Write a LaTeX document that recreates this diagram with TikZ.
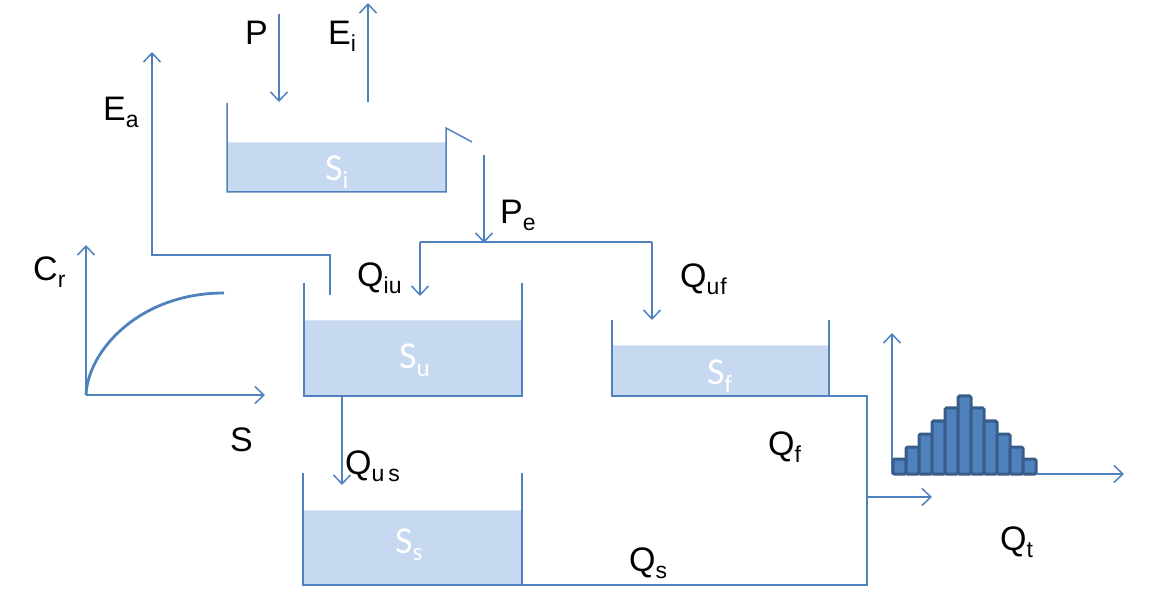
\documentclass[tikz,border=0pt]{standalone}
\usepackage{fontspec}
\setmainfont{Liberation Sans}
\newfontfamily\calib{Carlito}
\usetikzlibrary{arrows.meta}
\definecolor{ln}{HTML}{4F81BD}
\definecolor{water}{HTML}{C6D9F1}
\definecolor{waterline}{HTML}{DCE6F2}
\definecolor{barfill}{HTML}{4F81BD}
\definecolor{bardark}{HTML}{385D8A}
\newcommand\lbsub[1]{\raisebox{-7pt}{\fontsize{23}{23}\selectfont #1}}
\newcommand\wsub[1]{\raisebox{-0.2em}{\fontsize{25}{25}\selectfont #1}}
\tikzset{
  wall/.style={draw=ln, line width=1.5pt},
  flow/.style={draw=ln, line width=1.5pt, -{Straight Barb[length=9pt,width=17pt,line width=1.5pt]}},
  lbl/.style={anchor=base west, inner sep=0pt, font=\fontsize{34}{34}\selectfont},
  slbl/.style={anchor=base west, inner sep=0pt, text=white, font=\calib\fontsize{38}{38}\selectfont},
  waterbox/.style={fill=water, draw=none},
  barbox/.style={fill=barfill, draw=bardark, line width=3pt, rounded corners=1.5pt}
}
\begin{document}
\begin{tikzpicture}[x=1pt,y=-1pt]
\useasboundingbox (0,0) rectangle (1170,601);
% ---------- interception reservoir S_i
\fill[waterbox] (227,142) rectangle (446,192);
\draw[waterline, line width=1pt] (228,142.5) -- (445,142.5);
\draw[wall] (227,103) -- (227,192) -- (446,192) -- (446,128) -- (472,142);
\node[slbl] (Si) at (325,181) {S\wsub{i}};
% P and Ei
\coordinate (Ptop) at (279,14);
\coordinate (Pbot) at (279,102);
\draw[flow] (Ptop) -- (Pbot);
\node[lbl] (P) at (245,45) {P};
\coordinate (Eibot) at (368,102);
\coordinate (Eitop) at (368,3);
\draw[flow] (Eibot) -- (Eitop);
\node[lbl] (Ei) at (328,45) {E\lbsub{i}};
% Pe
\coordinate (Petop) at (484,155);
\coordinate (Pebot) at (484,243);
\draw[flow] (Petop) -- (Pebot);
\node[lbl] (Pe) at (500,224) {P\lbsub{e}};
\coordinate (splitL) at (420,242);
\coordinate (splitR) at (652,242);
\draw[wall] (splitL) -- (splitR);
\coordinate (Qiuend) at (420,296);
\coordinate (Qufend) at (652,320);
\draw[flow] (splitL) -- (Qiuend);
\draw[flow] (splitR) -- (Qufend);
\node[lbl] (Qiu) at (357,287) {Q\lbsub{iu}};
\node[lbl] (Quf) at (680,288) {Q\lbsub{u\kern1pt f}};
% ---------- unsaturated reservoir S_u
\fill[waterbox] (304,320) rectangle (522,396);
\draw[waterline, line width=1pt] (305,320.5) -- (521,320.5);
\draw[wall] (304,283) -- (304,396) -- (522,396) -- (522,283);
\node[slbl] (Su) at (399,369) {S\wsub{u}};
% Ea
\coordinate (Eastart) at (330,295);
\coordinate (Eatop) at (152,52);
\draw[flow] (Eastart) -- (330,255) -- (152,255) -- (Eatop);
\node[lbl] (Ea) at (103,121) {E\lbsub{a}};
% Cr curve
\coordinate (O1) at (86,395);
\coordinate (Cy) at (86,245);
\coordinate (Cx) at (265,395);
\draw[flow] (O1) -- (Cy);
\draw[flow] (O1) -- (Cx);
\draw[draw=ln, line width=2.8pt] (O1) .. controls (88,350) and (140,293) .. (224,293);
\node[lbl] (Cr) at (33,281) {C\lbsub{r}};
\node[lbl] (S) at (230,451) {S};
% ---------- fast reservoir S_f
\fill[waterbox] (612,345) rectangle (829,396);
\draw[waterline, line width=1pt] (613,345.5) -- (828,345.5);
\draw[wall] (612,320) -- (612,396) -- (829,396) -- (829,320);
\node[slbl] (Sf) at (707,385) {S\wsub{f}};
% Qus
\coordinate (Qustop) at (342,396);
\coordinate (Qusend) at (342,485);
\draw[flow] (Qustop) -- (Qusend);
\node[lbl] (Qus) at (345,474) {Q\lbsub{u\,s}};
% ---------- slow reservoir S_s
\fill[waterbox] (303,510) rectangle (522,585);
\draw[waterline, line width=1pt] (304,510.5) -- (521,510.5);
\draw[wall] (303,473) -- (303,585) -- (522,585) -- (522,473);
\node[slbl] (Ss) at (395,553) {S\wsub{s}};
% outflows
\coordinate (Sfout) at (829,396);
\coordinate (Ssout) at (522,585);
\coordinate (jtop) at (867,396);
\coordinate (jbot) at (867,585);
\draw[wall] (Ssout) -- (jbot) -- (jtop) -- (Sfout);
\coordinate (outS) at (867,497);
\coordinate (outE) at (932,497);
\draw[flow] (outS) -- (outE);
\node[lbl] (Qf) at (768,455) {Q\lbsub{f}};
\node[lbl] (Qs) at (629,571) {Q\lbsub{s}};
% ---------- hydrograph
\coordinate (O2) at (892,474);
\coordinate (Hy) at (892,333);
\coordinate (Hx) at (1124,474);
\draw[flow] (O2) -- (Hy);
\draw[flow] (O2) -- (Hx);
\foreach \i/\h in {0/15,1/27,2/40,3/53,4/66,5/78,6/66,7/53,8/40,9/27,10/15}{
  \draw[barbox] ({893+13*\i},474) rectangle ({906+13*\i},{474-\h});
}
\node[lbl] (Qt) at (1000,550) {Q\lbsub{t}};
\end{tikzpicture}
\end{document}
